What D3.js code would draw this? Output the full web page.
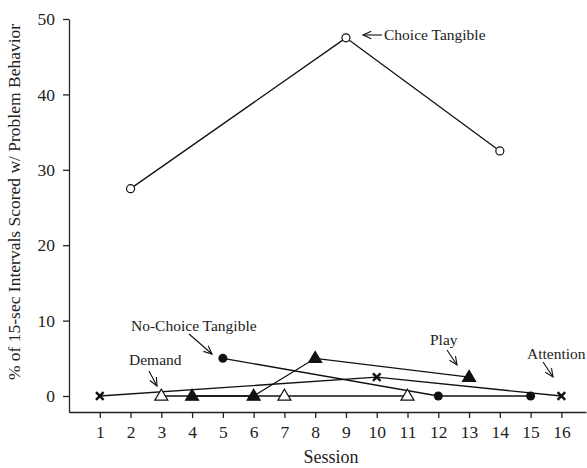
<!DOCTYPE html>
<html><head><meta charset="utf-8">
<script src="https://cdn.jsdelivr.net/npm/d3@7"></script>
<style>
html,body{margin:0;padding:0;background:#fff;}
svg{display:block;}
</style></head>
<body>
<svg id="chart" width="587" height="468"></svg>
<script>
const sessions = [1,2,3,4,5,6,7,8,9,10,11,12,13,14,15,16];
const yTicks = [0,10,20,30,40,50];

const choiceTangibleX = [2, 9, 14];
const choiceTangibleY = [27.5, 47.5, 32.5];
const noChoiceTangibleX = [5, 12, 15];
const noChoiceTangibleY = [5, 0, 0];
const playX = [4, 6, 8, 13];
const playY = [0, 0, 5, 2.5];
const demandX = [3, 7, 11];
const demandY = [0, 0, 0];
const attentionX = [1, 10, 16];
const attentionY = [0, 2.5, 0];

const FONT = '"Liberation Serif"';
const svg = d3.select("#chart");
const x = d3.scaleLinear().domain([0, 16.8]).range([69, 586]);
const y = d3.scaleLinear().domain([-2.12, 50]).range([412, 19]);

// axes
const xAxis = svg.append("g").attr("transform","translate(0,412)")
  .call(d3.axisBottom(x).tickValues(sessions).tickSize(6).tickSizeOuter(0).tickPadding(8).tickFormat(d3.format("d")));
const yAxis = svg.append("g").attr("transform","translate(69,0)")
  .call(d3.axisLeft(y).tickValues(yTicks).tickSize(6).tickSizeOuter(0).tickPadding(8).tickFormat(d3.format("d")));
[xAxis,yAxis].forEach(g=>{
  g.attr("font-family", null).attr("font-size", null);
  g.selectAll("path,line").attr("stroke","#222").attr("stroke-width",1.3);
  g.selectAll("text").style("font-size","17.5px").style("font-family",FONT).attr("fill","#222");
});

svg.append("text").attr("x", 331).attr("y", 463).attr("text-anchor","middle")
  .style("font-family",FONT).style("font-size","18px").attr("fill","#222").text("Session");
svg.append("text").attr("transform","translate(20,202) rotate(-90)").attr("text-anchor","middle")
  .style("font-family",FONT).style("font-size","17.5px").attr("fill","#222")
  .text("% of 15-sec Intervals Scored w/ Problem Behavior");

const line = d3.line().x(d=>x(d[0])).y(d=>y(d[1]));
const zip = (a,b)=>a.map((v,i)=>[v,b[i]]);

const series = [
  {d: zip(demandX, demandY), m: "openTri"},
  {d: zip(attentionX, attentionY), m: "cross"},
  {d: zip(playX, playY), m: "filledTri"},
  {d: zip(noChoiceTangibleX, noChoiceTangibleY), m: "filledCircle"},
  {d: zip(choiceTangibleX, choiceTangibleY), m: "openCircle"}
];
series.forEach(s=>{
  svg.append("path").datum(s.d).attr("d", line).attr("fill","none")
    .attr("stroke","#111").attr("stroke-width",1.3);
});
series.forEach(s=>{
  const g = svg.append("g");
  s.d.forEach(p=>{
    const cx = x(p[0]), cy = y(p[1]);
    if (s.m==="openCircle") {
      g.append("circle").attr("cx",cx).attr("cy",cy).attr("r",4).attr("fill","#fff").attr("stroke","#111").attr("stroke-width",1.2);
    } else if (s.m==="filledCircle") {
      g.append("circle").attr("cx",cx).attr("cy",cy).attr("r",4.5).attr("fill","#111");
    } else if (s.m==="filledTri" || s.m==="openTri") {
      const h=11, w=13;
      g.append("path").attr("d",`M${cx},${cy-h*0.62}L${cx+w/2},${cy+h*0.38}L${cx-w/2},${cy+h*0.38}Z`)
        .attr("fill", s.m==="filledTri" ? "#111" : "#fff").attr("stroke","#111").attr("stroke-width",1.2);
    } else if (s.m==="cross") {
      const r=3.8;
      g.append("path").attr("d",`M${cx-r},${cy-r}L${cx+r},${cy+r}M${cx-r},${cy+r}L${cx+r},${cy-r}`)
        .attr("stroke","#111").attr("stroke-width",2.4).attr("fill","none");
    }
  });
});

// annotations
const notes = [
  {t:"Choice Tangible", tx:384, ty:40, x1:382, y1:35, x2:363, y2:35},
  {t:"No-Choice Tangible", tx:131, ty:331, x1:189, y1:334, x2:212, y2:354},
  {t:"Demand", tx:129, ty:365, x1:149, y1:371, x2:157, y2:386},
  {t:"Play", tx:430, ty:345, x1:447, y1:350, x2:457, y2:365},
  {t:"Attention", tx:527, ty:359, x1:543, y1:362, x2:553, y2:377}
];
notes.forEach(n=>{
  svg.append("text").attr("x",n.tx).attr("y",n.ty).style("font-family",FONT)
    .style("font-size","15.5px").attr("fill","#222").text(n.t);
  svg.append("line").attr("x1",n.x1).attr("y1",n.y1).attr("x2",n.x2).attr("y2",n.y2)
    .attr("stroke","#111").attr("stroke-width",1.1);
  const ang = Math.atan2(n.y2-n.y1, n.x2-n.x1);
  const L=9, a=0.42;
  const p1=[n.x2-L*Math.cos(ang-a), n.y2-L*Math.sin(ang-a)];
  const p2=[n.x2-L*Math.cos(ang+a), n.y2-L*Math.sin(ang+a)];
  svg.append("path").attr("d",`M${p1[0]},${p1[1]}L${n.x2},${n.y2}L${p2[0]},${p2[1]}`)
    .attr("fill","none").attr("stroke","#111").attr("stroke-width",1.1);
});
</script>
</body></html>
